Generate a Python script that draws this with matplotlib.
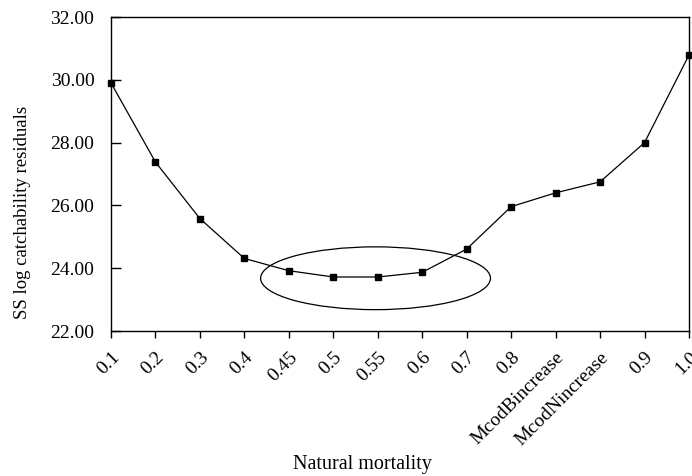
import matplotlib.pyplot as plt
from matplotlib.patches import Ellipse

categories = ["0.1", "0.2", "0.3", "0.4", "0.45", "0.5", "0.55", "0.6", "0.7",
              "0.8", "McodBincrease", "McodNincrease", "0.9", "1.0"]
ss_resid = [29.90, 27.38, 25.58, 24.31, 23.92, 23.72, 23.72, 23.87, 24.61,
            25.96, 26.40, 26.75, 28.00, 30.79]
y_ticks = [22, 24, 26, 28, 30, 32]

plt.rcParams["font.family"] = ["Liberation Serif", "DejaVu Serif"]

fig = plt.figure(figsize=(6.92, 4.76), dpi=100)
ax = fig.add_axes([111 / 692, 1 - 331 / 476, 578 / 692, 314 / 476])

x = list(range(len(categories)))
ax.plot(x, ss_resid, "-", color="black", linewidth=0.9, marker="s",
        markersize=4.5, markerfacecolor="black", markeredgecolor="black",
        clip_on=False, zorder=3)

# ellipse around the minimum region
ax.add_patch(Ellipse((5.95, 23.68), 5.17, 2.0, fill=False,
                     edgecolor="black", linewidth=0.9))

ax.set_xlim(0, len(categories) - 1)
ax.set_ylim(22, 32)
ax.set_yticks(y_ticks)
ax.set_yticklabels([f"{v:.2f}" for v in y_ticks], fontsize=14)
ax.tick_params(axis="y", direction="in", length=7, width=1, pad=12)
ax.set_xticks(x)
ax.set_xticklabels(categories, fontsize=14, rotation=45, ha="right",
                   rotation_mode="anchor")
ax.tick_params(axis="x", direction="out", length=5, width=1, pad=8)

for s in ax.spines.values():
    s.set_linewidth(1.0)

fig.text(362 / 692, 1 - 465 / 476, "Natural mortality", ha="center",
         va="center", fontsize=14.5)
fig.text(23 / 692, 1 - 212 / 476, "SS log catchability residuals",
         ha="center", va="center", rotation=90, fontsize=13.5)

fig.savefig("out.png", dpi=100)
